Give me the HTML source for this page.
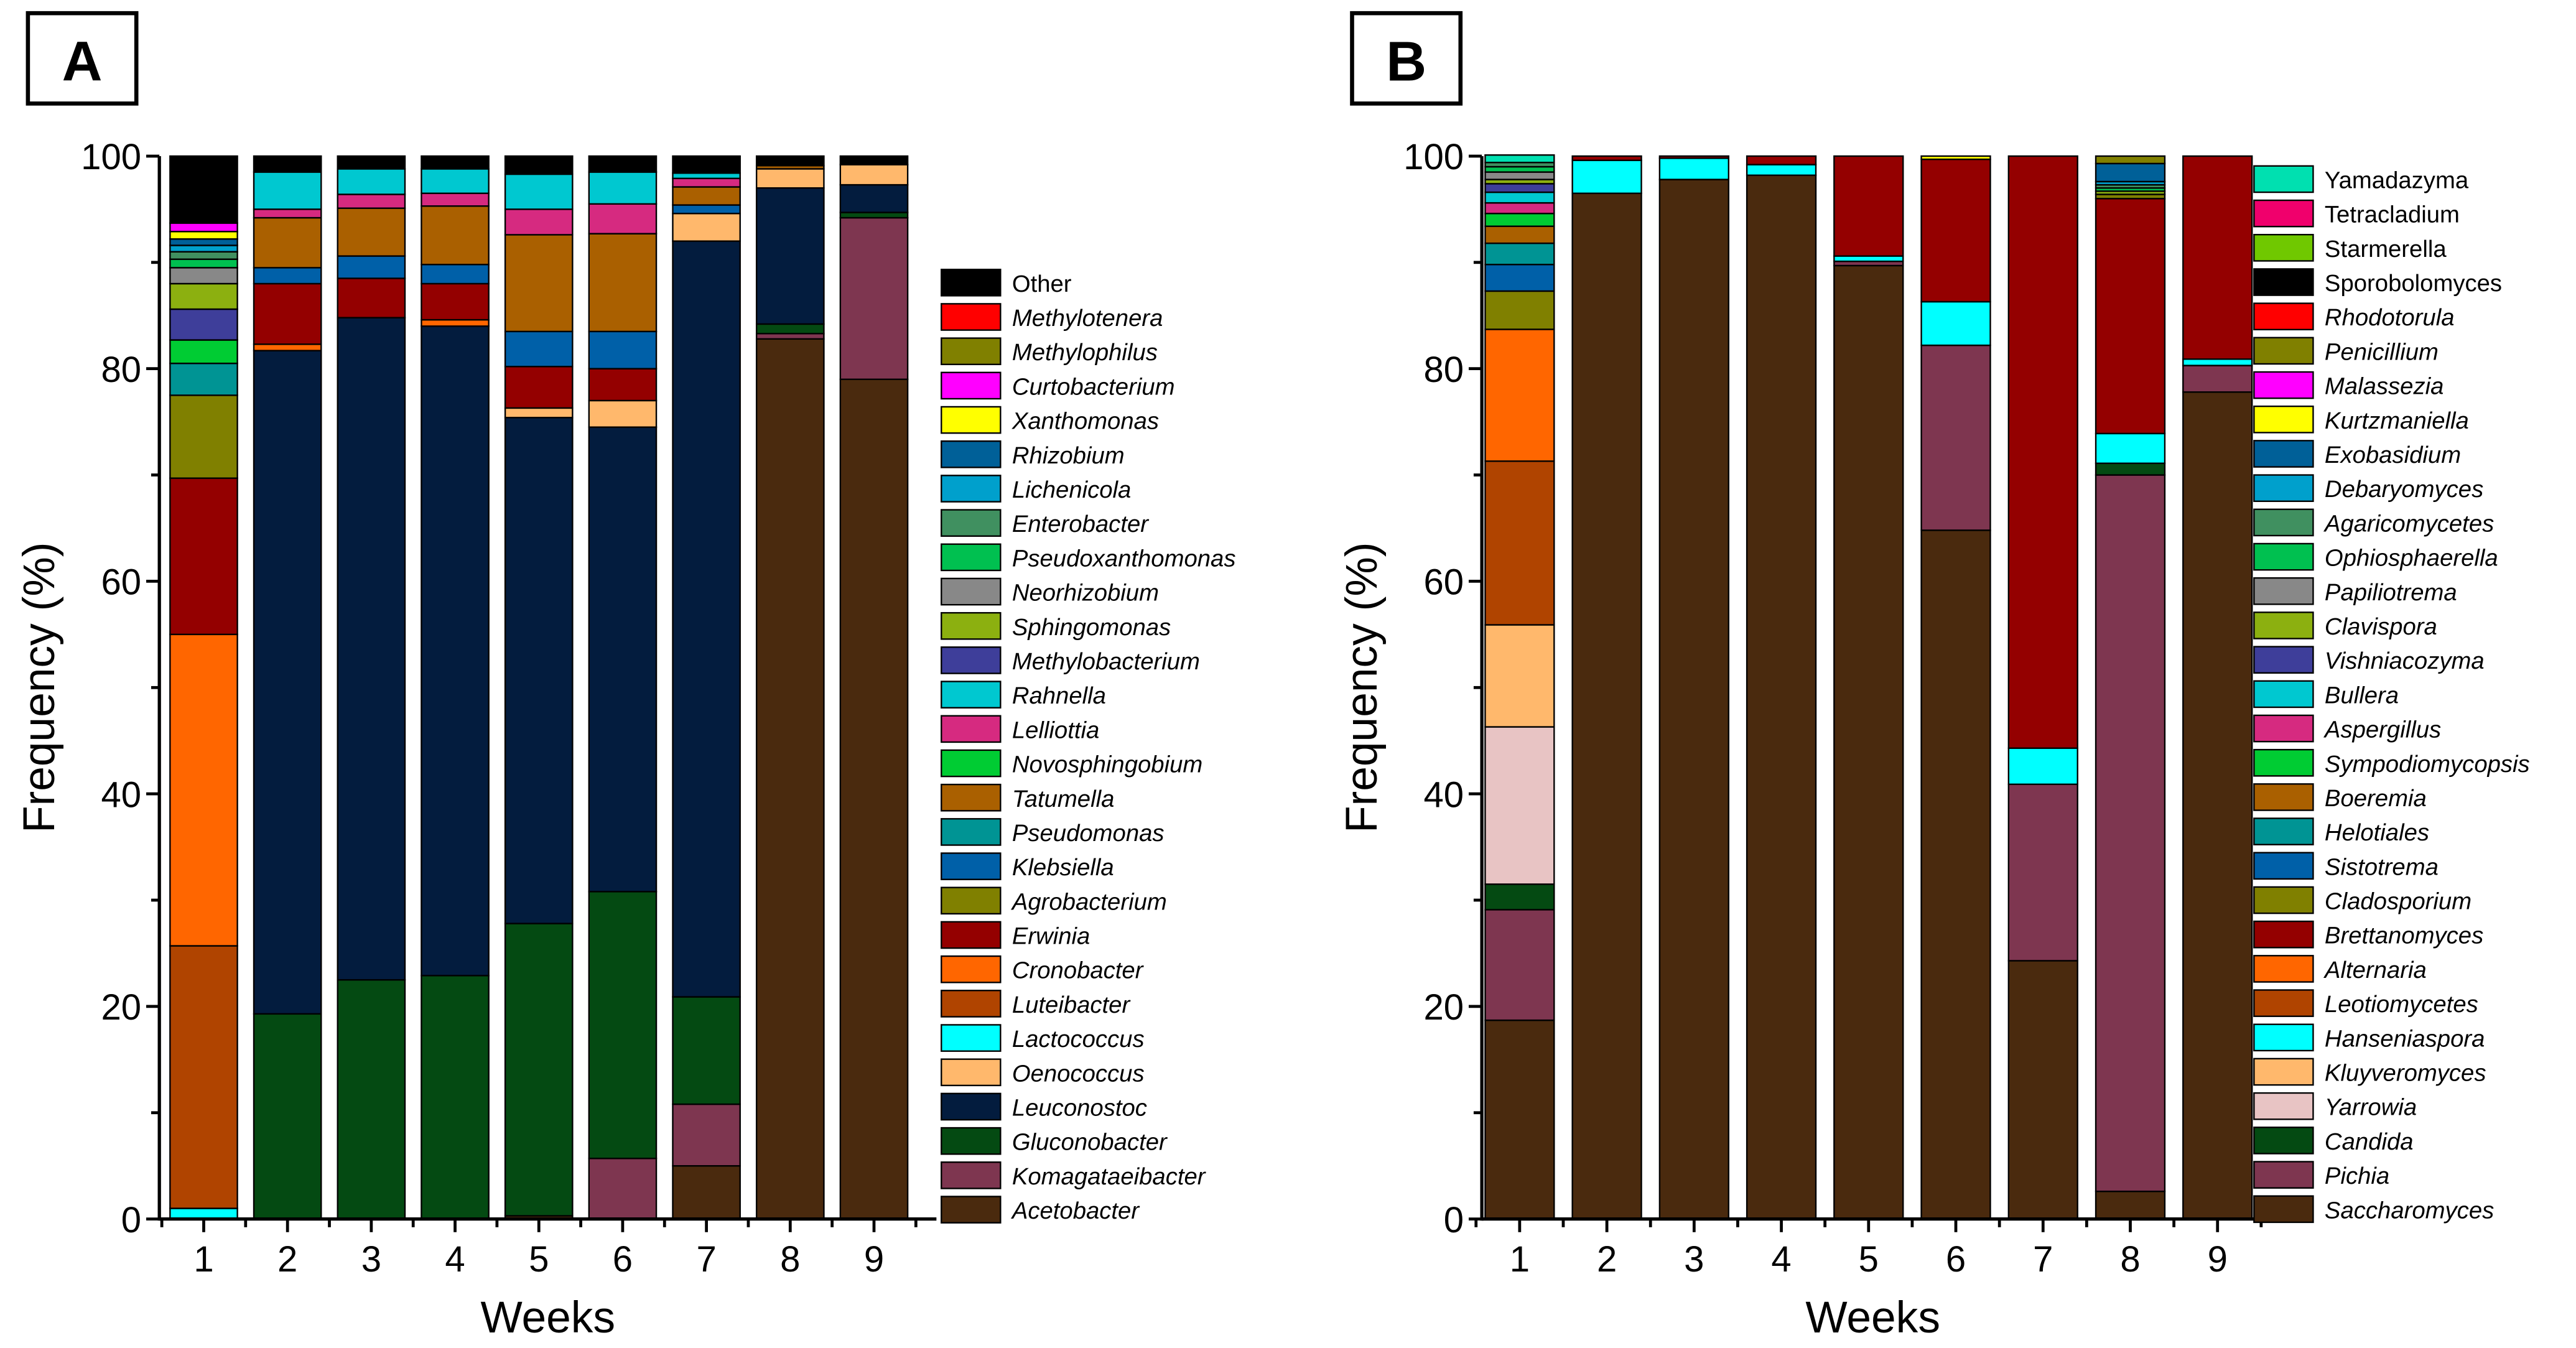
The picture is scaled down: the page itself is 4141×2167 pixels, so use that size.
<!DOCTYPE html>
<html><head><meta charset="utf-8"><style>
html,body{margin:0;padding:0;background:#fff}
svg{display:block}
text{font-family:"Liberation Sans",Arial,sans-serif}
</style></head><body>
<svg id="chart" xmlns="http://www.w3.org/2000/svg" width="4141" height="2167" viewBox="0 0 1568 820.5">
<rect x="0" y="0" width="1568" height="820.5" fill="#fff"/>
<g id="panelA"></g>
<g id="panelB"></g>
</svg>
<script>
const weeks = ["1","2","3","4","5","6","7","8","9"];
const yTicks = [0,20,40,60,80,100];

const genusA = ["Acetobacter","Komagataeibacter","Gluconobacter","Leuconostoc","Oenococcus","Lactococcus","Luteibacter","Cronobacter","Erwinia","Agrobacterium","Klebsiella","Pseudomonas","Tatumella","Novosphingobium","Lelliottia","Rahnella","Methylobacterium","Sphingomonas","Neorhizobium","Pseudoxanthomonas","Enterobacter","Lichenicola","Rhizobium","Xanthomonas","Curtobacterium","Methylophilus","Methylotenera","Other"];
const colorsA = ["#4a2a0e","#7e3650","#044a12","#031c3e","#ffb86c","#00ffff","#b04400","#ff6600","#940000","#808000","#0060a8","#009494","#aa6000","#00cc33","#d62a80","#00c8d0","#3e3e9a","#8cb010","#888888","#00c050","#409060","#00a0cc","#006098","#ffff00","#ff00ff","#808000","#ff0000","#000000"];
const valuesA = [
 [0,0,0,0,0,1,24.7,29.3,14.7,7.8,0,3,0,2.2,0,0,2.9,2.4,1.5,0.8,0.7,0.6,0.6,0.7,0.8,0,0,6.3],
 [0,0,19.3,62.4,0,0,0,0.6,5.7,0,1.5,0,4.7,0,0.8,3.5,0,0,0,0,0,0,0,0,0,0,0,1.5],
 [0,0,22.5,62.3,0,0,0,0,3.7,0,2.1,0,4.5,0,1.3,2.4,0,0,0,0,0,0,0,0,0,0,0,1.2],
 [0,0,22.9,61.1,0,0,0,0.6,3.4,0,1.8,0,5.5,0,1.2,2.3,0,0,0,0,0,0,0,0,0,0,0,1.2],
 [0.3,0,27.5,47.6,0.9,0,0,0,3.9,0,3.3,0,9.1,0,2.4,3.3,0,0,0,0,0,0,0,0,0,0,0,1.7],
 [0,5.7,25.1,43.7,2.5,0,0,0,3,0,3.5,0,9.2,0,2.8,3,0,0,0,0,0,0,0,0,0,0,0,1.5],
 [5,5.8,10.1,71.1,2.6,0,0,0,0,0,0.8,0,1.7,0,0.8,0.5,0,0,0,0,0,0,0,0,0,0,0,1.6],
 [82.8,0.5,0.9,12.8,1.8,0,0,0,0,0,0,0,0.3,0,0,0,0,0,0,0,0,0,0,0,0,0,0,0.9],
 [79,15.2,0.5,2.6,1.9,0,0,0,0,0,0,0,0,0,0,0,0,0,0,0,0,0,0,0,0,0,0,0.8]
];

const genusB = ["Saccharomyces","Pichia","Candida","Yarrowia","Kluyveromyces","Hanseniaspora","Leotiomycetes","Alternaria","Brettanomyces","Cladosporium","Sistotrema","Helotiales","Boeremia","Sympodiomycopsis","Aspergillus","Bullera","Vishniacozyma","Clavispora","Papiliotrema","Ophiosphaerella","Agaricomycetes","Debaryomyces","Exobasidium","Kurtzmaniella","Malassezia","Penicillium","Rhodotorula","Sporobolomyces","Starmerella","Tetracladium","Yamadazyma"];
const colorsB = ["#4a2a0e","#7e3650","#044a12","#e8c4c4","#ffb86c","#00ffff","#b04400","#ff6600","#940000","#808000","#0060a8","#009494","#aa6000","#00cc33","#d62a80","#00c8d0","#3e3e9a","#8cb010","#888888","#00c050","#409060","#00a0cc","#006098","#ffff00","#ff00ff","#808000","#ff0000","#000000","#70c800","#f0006c","#00e0b0"];
const italicB = [1,1,1,1,1,1,1,1,1,1,1,1,1,1,1,1,1,1,1,1,1,1,1,1,1,1,1,0,0,0,0];
const valuesB = [
 [18.7,10.4,2.4,14.8,9.6,0,15.4,12.4,0,3.6,2.5,2,1.6,1.2,1,1,0.8,0.4,0.7,0.5,0.4,0,0,0,0,0,0,0,0,0,0.7],
 [96.5,0,0,0,0,3.1,0,0,0.4,0,0,0,0,0,0,0,0,0,0,0,0,0,0,0,0,0,0,0,0,0,0],
 [97.8,0,0,0,0,2,0,0,0.2,0,0,0,0,0,0,0,0,0,0,0,0,0,0,0,0,0,0,0,0,0,0],
 [98.2,0,0,0,0,1,0,0,0.8,0,0,0,0,0,0,0,0,0,0,0,0,0,0,0,0,0,0,0,0,0,0],
 [89.7,0.4,0,0,0,0.5,0,0,9.4,0,0,0,0,0,0,0,0,0,0,0,0,0,0,0,0,0,0,0,0,0,0],
 [64.8,17.4,0,0,0,4.1,0,0,13.4,0,0,0,0,0,0,0,0,0,0,0,0,0,0,0.3,0,0,0,0,0,0,0],
 [24.3,16.6,0,0,0,3.4,0,0,55.7,0,0,0,0,0,0,0,0,0,0,0,0,0,0,0,0,0,0,0,0,0,0],
 [2.6,67.4,1.1,0,0,2.8,0,0,22.1,0.4,0,0,0,0,0,0,0,0.3,0,0.3,0.3,0.3,1.7,0,0,0.7,0,0,0,0,0],
 [77.8,2.5,0,0,0,0.6,0,0,19.1,0,0,0,0,0,0,0,0,0,0,0,0,0,0,0,0,0,0,0,0,0,0]
];

const NS="http://www.w3.org/2000/svg";
function mk(parent, tag, attrs, txt){
  const e=document.createElementNS(NS,tag);
  for(const k in attrs) e.setAttribute(k, attrs[k]);
  if(txt!==undefined) e.textContent=txt;
  parent.appendChild(e); return e;
}

function drawPanel(g, cfg){
  const {x0,x1,y0,y1,bc0,bstep,bw,genus,colors,values,italic,legX,legY0,legStep,letter,letX} = cfg;
  const yS = v => y0 - (y0-y1)*v/100;
  const xS = i => bc0 + bstep*i;
  const lb = mk(g,'g',{});
  
  
  mk(lb,'rect',{x:letX,y:8,width:66,height:55,fill:'#fff',stroke:'#000','stroke-width':2.5});
  mk(lb,'text',{x:letX+33,y:49,'text-anchor':'middle','font-size':34,'font-weight':'bold'},letter);
  values.forEach((wk,i)=>{
    let cum=0;
    wk.forEach((v,j)=>{
      if(v<=0) return;
      const r=mk(g,'rect',{x:xS(i)-bw/2,y:yS(cum+v),width:bw,height:yS(cum)-yS(cum+v),fill:colors[j],stroke:'#000','stroke-width':0.9});
      
      
      cum+=v;
    });
  });
  const ax=mk(g,'g',{});
  
  
  mk(ax,'line',{x1:x0,y1:y0+1,x2:x0,y2:y1,stroke:'#000','stroke-width':2});
  for(let v=0;v<=100;v+=10){
    const major=v%20===0;
    mk(ax,'line',{x1:x0-(major?8:5),y1:yS(v),x2:x0,y2:yS(v),stroke:'#000','stroke-width':1.8});
  }
  yTicks.forEach(v=>{
    const t=mk(ax,'text',{x:x0-11,y:yS(v)+8,'text-anchor':'end','font-size':22},String(v));
    
    
  });
  const yt=mk(g,'text',{x:0,y:0,transform:`translate(${x0-64},${(y0+y1)/2}) rotate(-90)`,'text-anchor':'middle','font-size':27},'Frequency (%)');
  
  
  const xa=mk(g,'g',{});
  
  
  mk(xa,'line',{x1:x0,y1:y0,x2:x1,y2:y0,stroke:'#000','stroke-width':2});
  weeks.forEach((w,i)=>{
    mk(xa,'line',{x1:xS(i),y1:y0,x2:xS(i),y2:y0+8,stroke:'#000','stroke-width':1.8});
    mk(xa,'line',{x1:xS(i)-bstep/2,y1:y0,x2:xS(i)-bstep/2,y2:y0+5,stroke:'#000','stroke-width':1.8});
    const t=mk(xa,'text',{x:xS(i),y:y0+32,'text-anchor':'middle','font-size':22},w);
    
    
  });
  mk(xa,'line',{x1:xS(8)+bstep/2,y1:y0,x2:xS(8)+bstep/2,y2:y0+5,stroke:'#000','stroke-width':1.8});
  const xt=mk(g,'text',{x:(x0+x1)/2,y:y0+69,'text-anchor':'middle','font-size':27},'Weeks');
  
  
  const lg=mk(g,'g',{});
  
  
  const n=genus.length;
  for(let k=0;k<n;k++){
    const j=n-1-k;
    const cy=legY0+legStep*k;
    const e=mk(lg,'g',{});
    
    
    mk(e,'rect',{x:legX,y:cy-8,width:36,height:16,fill:colors[j],stroke:'#000','stroke-width':0.9});
    mk(e,'text',{x:legX+43,y:cy+5.5,'font-size':14.5,'font-style':italic[j]?'italic':'normal'},genus[j]);
  }
}

drawPanel(document.getElementById('panelA'),{
  x0:97,x1:570,y0:742,y1:95,bc0:124,bstep:51,bw:41,
  genus:genusA,colors:colorsA,values:valuesA,
  italic:genusA.map(g=>g==="Other"?0:1),
  legX:573,legY0:172,legStep:20.9,letter:'A',letX:17
});
drawPanel(document.getElementById('panelB'),{
  x0:902,x1:1378,y0:742,y1:95,bc0:925,bstep:53.1,bw:42,
  genus:genusB,colors:colorsB,values:valuesB,italic:italicB,
  legX:1372,legY0:109,legStep:20.9,letter:'B',letX:823
});
</script>
</body></html>
